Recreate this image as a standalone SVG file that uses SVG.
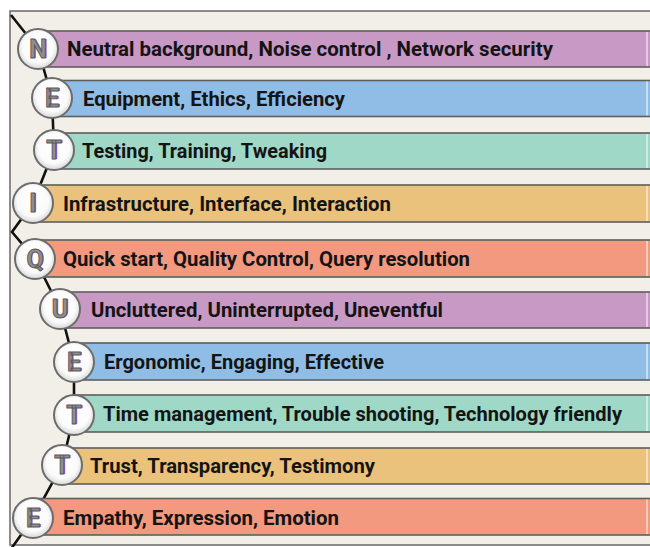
<svg xmlns="http://www.w3.org/2000/svg" width="650" height="547" viewBox="0 0 650 547">
  <defs>
    <radialGradient id="disc" cx="50%" cy="45%" r="55%">
      <stop offset="0" stop-color="#ffffff"/>
      <stop offset="0.7" stop-color="#fbfbfb"/>
      <stop offset="1" stop-color="#d6d6d6"/>
    </radialGradient>
    <style>
      .bar { stroke: #5e5e5e; stroke-width: 1.6; }
      .purple { fill: #c899c4; }
      .blue { fill: #90bde6; }
      .teal { fill: #9fd8c6; }
      .gold { fill: #ebc27b; }
      .salmon { fill: #f2997f; }
      .edge { stroke: #ffffff; stroke-opacity: 0.7; stroke-width: 1.4; }
      .disc { fill: url(#disc); stroke: #6c6c6c; stroke-width: 2; }
      .label { font-family: Roboto, "Liberation Sans", sans-serif; font-weight: 700; font-size: 20px; fill: #141414; }
      .ini { font-family: Roboto, "Liberation Sans", sans-serif; font-weight: 700; font-size: 25px; text-anchor: middle; }
      .ini-shadow { fill: #b352b0; }
      .ini-face { fill: #8e8e8e; stroke: #5a5a5a; stroke-width: 0.9; }
      .link { fill: none; stroke: #111; stroke-width: 2.6; stroke-linejoin: miter; }
    </style>
  </defs>

  <!-- page and frame -->
  <rect x="0" y="0" width="650" height="547" fill="#ffffff"/>
  <rect x="10" y="11" width="645" height="534" fill="#f2efe9" stroke="#6a6a6a" stroke-width="1.5"/>

  <!-- connecting zig-zag line -->
  <g id="connectors">
    <polyline class="link" points="11,15 38,49 52,98 54,150 33,203 12,232 35,259 60,309 74,362 74,415 62,465 33,518 11,549"/>
  </g>

  <g id="row-N">
    <rect class="bar purple" x="38" y="31" width="620" height="36"/>
    <line class="edge" x1="647" y1="32" x2="647" y2="66"/>
    <circle class="disc" cx="38" cy="49" r="20"/>
    <text class="ini ini-shadow" x="39.2" y="58.2">N</text>
    <text class="ini ini-face" x="38" y="57.5">N</text>
    <text class="label" x="67" y="56" textLength="486" lengthAdjust="spacingAndGlyphs">Neutral background, Noise control , Network security</text>
  </g>

  <g id="row-E1">
    <rect class="bar blue" x="52" y="80.5" width="610" height="36"/>
    <line class="edge" x1="647" y1="81.5" x2="647" y2="115.5"/>
    <circle class="disc" cx="52" cy="98" r="20"/>
    <text class="ini ini-shadow" x="53.2" y="107.2">E</text>
    <text class="ini ini-face" x="52" y="106.5">E</text>
    <text class="label" x="83" y="105.5" textLength="262" lengthAdjust="spacingAndGlyphs">Equipment, Ethics, Efficiency</text>
  </g>

  <g id="row-T1">
    <rect class="bar teal" x="54" y="133" width="610" height="36"/>
    <line class="edge" x1="647" y1="134" x2="647" y2="168"/>
    <circle class="disc" cx="54" cy="150" r="20"/>
    <text class="ini ini-shadow" x="55.2" y="159.2">T</text>
    <text class="ini ini-face" x="54" y="158.5">T</text>
    <text class="label" x="82" y="158" textLength="245" lengthAdjust="spacingAndGlyphs">Testing, Training, Tweaking</text>
  </g>

  <g id="row-I">
    <rect class="bar gold" x="33" y="185" width="630" height="37"/>
    <line class="edge" x1="647" y1="186" x2="647" y2="221"/>
    <circle class="disc" cx="33" cy="203" r="20"/>
    <text class="ini ini-shadow" x="34.2" y="212.2">I</text>
    <text class="ini ini-face" x="33" y="211.5">I</text>
    <text class="label" x="63" y="210.5" textLength="328" lengthAdjust="spacingAndGlyphs">Infrastructure, Interface, Interaction</text>
  </g>

  <g id="row-Q">
    <rect class="bar salmon" x="35" y="240" width="630" height="37"/>
    <line class="edge" x1="647" y1="241" x2="647" y2="276"/>
    <circle class="disc" cx="35" cy="259" r="20"/>
    <text class="ini ini-shadow" x="36.2" y="268.2">Q</text>
    <text class="ini ini-face" x="35" y="267.5">Q</text>
    <text class="label" x="63" y="265.5" textLength="407" lengthAdjust="spacingAndGlyphs">Quick start, Quality Control, Query resolution</text>
  </g>

  <g id="row-U">
    <rect class="bar purple" x="60" y="292" width="600" height="36"/>
    <line class="edge" x1="647" y1="293" x2="647" y2="327"/>
    <circle class="disc" cx="60" cy="309" r="20"/>
    <text class="ini ini-shadow" x="61.2" y="318.2">U</text>
    <text class="ini ini-face" x="60" y="317.5">U</text>
    <text class="label" x="91" y="317" textLength="352" lengthAdjust="spacingAndGlyphs">Uncluttered, Uninterrupted, Uneventful</text>
  </g>

  <g id="row-E2">
    <rect class="bar blue" x="74" y="343" width="590" height="37"/>
    <line class="edge" x1="647" y1="344" x2="647" y2="379"/>
    <circle class="disc" cx="74" cy="362" r="20"/>
    <text class="ini ini-shadow" x="75.2" y="371.2">E</text>
    <text class="ini ini-face" x="74" y="370.5">E</text>
    <text class="label" x="104" y="368.5" textLength="280" lengthAdjust="spacingAndGlyphs">Ergonomic, Engaging, Effective</text>
  </g>

  <g id="row-T2">
    <rect class="bar teal" x="74" y="395" width="590" height="37"/>
    <line class="edge" x1="647" y1="396" x2="647" y2="431"/>
    <circle class="disc" cx="74" cy="415" r="20"/>
    <text class="ini ini-shadow" x="75.2" y="424.2">T</text>
    <text class="ini ini-face" x="74" y="423.5">T</text>
    <text class="label" x="103" y="420.5" textLength="519" lengthAdjust="spacingAndGlyphs">Time management, Trouble shooting, Technology friendly</text>
  </g>

  <g id="row-T3">
    <rect class="bar gold" x="62" y="448" width="600" height="36"/>
    <line class="edge" x1="647" y1="449" x2="647" y2="483"/>
    <circle class="disc" cx="62" cy="465" r="20"/>
    <text class="ini ini-shadow" x="63.2" y="474.2">T</text>
    <text class="ini ini-face" x="62" y="473.5">T</text>
    <text class="label" x="90" y="473" textLength="285" lengthAdjust="spacingAndGlyphs">Trust, Transparency, Testimony</text>
  </g>

  <g id="row-E3">
    <rect class="bar salmon" x="33" y="498.5" width="630" height="36.5"/>
    <line class="edge" x1="647" y1="499.5" x2="647" y2="534"/>
    <circle class="disc" cx="33" cy="518" r="20"/>
    <text class="ini ini-shadow" x="34.2" y="527.2">E</text>
    <text class="ini ini-face" x="33" y="526.5">E</text>
    <text class="label" x="63" y="524.5" textLength="276" lengthAdjust="spacingAndGlyphs">Empathy, Expression, Emotion</text>
  </g>
</svg>
